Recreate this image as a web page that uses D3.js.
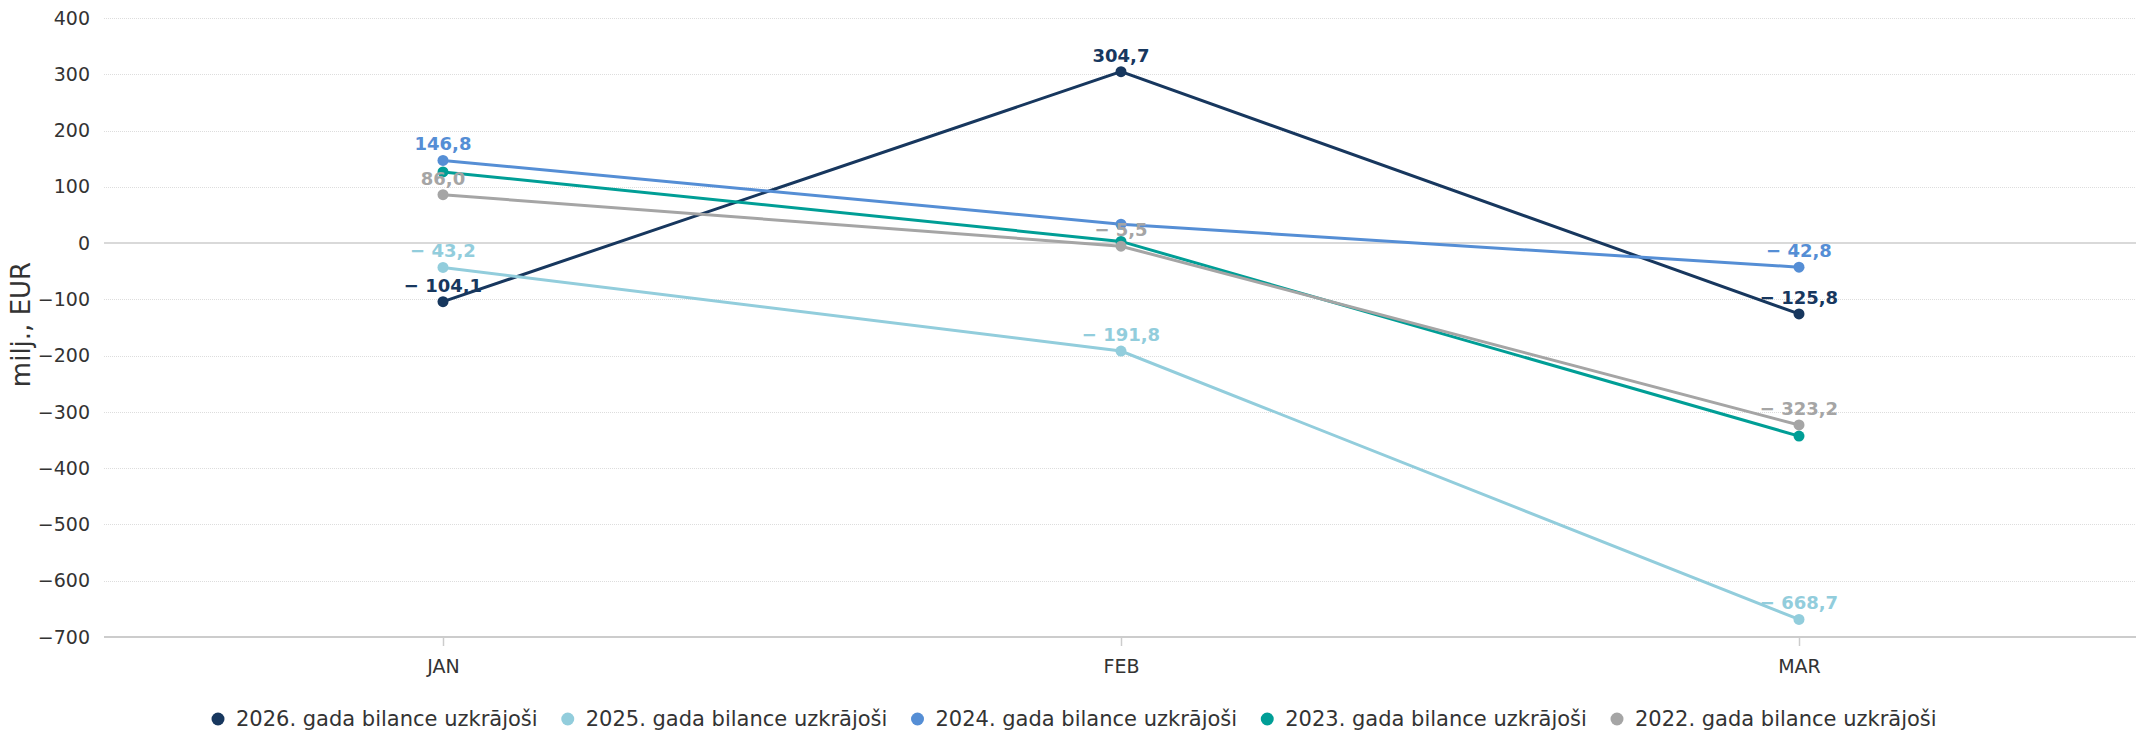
<!DOCTYPE html>
<html>
<head>
<meta charset="utf-8">
<script src="https://cdn.jsdelivr.net/npm/d3@7"></script>
<style>
  body { margin: 0; background: #fff; }
  text { font-family: "DejaVu Sans", sans-serif; }
</style>
</head>
<body>
<div id="chart"></div>
<script>
// data
var months = ["JAN", "FEB", "MAR"];
var seriesNames = ["2026. gada bilance uzkrājoši", "2025. gada bilance uzkrājoši", "2024. gada bilance uzkrājoši", "2023. gada bilance uzkrājoši", "2022. gada bilance uzkrājoši"];
var values2026 = [-104.1, 304.7, -125.8];
var values2025 = [-43.2, -191.8, -668.7];
var values2024 = [146.8, 33.5, -42.8];
var values2023 = [126.5, 3.0, -343.0];
var values2022 = [86.0, -5.5, -323.2];
var seriesColors = ["#17375e", "#92cddc", "#558ed5", "#009e96", "#a5a5a5"];
// labels that the chart hid because they overlapped: [series, month]
var hiddenLabels = [[2, 1], [3, 0], [3, 1], [3, 2]];
var yTicks = [400, 300, 200, 100, 0, -100, -200, -300, -400, -500, -600, -700];

var allValues = [values2026, values2025, values2024, values2023, values2022];

var width = 2136, height = 733;
var plotLeft = 104, plotRight = 2138, plotTop = 18, plotBottom = 637;

var svg = d3.select("#chart").append("svg")
    .attr("width", width)
    .attr("height", height);

var x = d3.scalePoint()
    .domain(months)
    .range([plotLeft, plotRight])
    .padding(0.5);

var y = d3.scaleLinear()
    .domain([-700, 400])
    .range([plotBottom, plotTop]);

var fmt = function(v, sp) {
    var s = d3.format(".1f")(Math.abs(v)).replace(".", ",");
    return v < 0 ? "\u2212" + sp + s : s;
};

// grid
svg.append("g").selectAll("line")
    .data(yTicks.filter(function(t) { return t !== 0 && t !== -700; }))
    .enter().append("line")
    .attr("x1", plotLeft).attr("x2", width)
    .attr("y1", function(d) { return Math.round(y(d)) + 0.5; })
    .attr("y2", function(d) { return Math.round(y(d)) + 0.5; })
    .attr("stroke", "#dddddd")
    .attr("stroke-width", 1)
    .attr("stroke-dasharray", "1,1");

svg.append("line")
    .attr("x1", plotLeft).attr("x2", width)
    .attr("y1", y(0)).attr("y2", y(0))
    .attr("stroke", "#cccccc").attr("stroke-width", 1.5);

// y axis
var yAxis = d3.axisLeft(y)
    .tickValues(yTicks)
    .tickSize(0)
    .tickPadding(14)
    .tickFormat(function(d) { return d < 0 ? "\u2212" + (-d) : d; });
var gy = svg.append("g")
    .attr("transform", "translate(" + plotLeft + ",0)")
    .call(yAxis);
gy.select(".domain").remove();
gy.selectAll("text")
    .attr("font-size", 19)
    .attr("fill", "#333333")
    .attr("font-family", "DejaVu Sans");

svg.append("text")
    .attr("transform", "translate(30," + ((plotTop + plotBottom) / 2 - 3) + ") rotate(-90)")
    .attr("text-anchor", "middle")
    .attr("font-size", 26)
    .attr("fill", "#333333")
    .text("milj., EUR");

// x axis
var xAxis = d3.axisBottom(x)
    .tickSize(9)
    .tickPadding(14);
var gx = svg.append("g")
    .attr("transform", "translate(0," + plotBottom + ")")
    .call(xAxis);
gx.select(".domain").remove();
gx.selectAll(".tick line").attr("stroke", "#cccccc").attr("stroke-width", 1.5);
gx.selectAll("text")
    .attr("font-size", 19)
    .attr("fill", "#333333")
    .attr("font-family", "DejaVu Sans");
svg.append("line")
    .attr("x1", plotLeft).attr("x2", width)
    .attr("y1", plotBottom).attr("y2", plotBottom)
    .attr("stroke", "#cccccc").attr("stroke-width", 2);

// lines and markers
var line = d3.line()
    .x(function(d, i) { return x(months[i]); })
    .y(function(d) { return y(d); });

allValues.forEach(function(vals, s) {
    svg.append("path")
        .datum(vals)
        .attr("d", line)
        .attr("fill", "none")
        .attr("stroke", seriesColors[s])
        .attr("stroke-width", 3);
    svg.append("g").selectAll("circle")
        .data(vals)
        .enter().append("circle")
        .attr("cx", function(d, i) { return x(months[i]); })
        .attr("cy", function(d) { return y(d); })
        .attr("r", 5.5)
        .attr("fill", seriesColors[s]);
});

// data labels
allValues.forEach(function(vals, s) {
    svg.append("g").selectAll("text")
        .data(vals.map(function(v, i) { return {v: v, i: i}; })
            .filter(function(d) {
                return !hiddenLabels.some(function(h) { return h[0] === s && h[1] === d.i; });
            }))
        .enter().append("text")
        .attr("x", function(d) { return x(months[d.i]); })
        .attr("y", function(d) { return y(d.v) - 10; })
        .attr("text-anchor", "middle")
        .attr("font-size", 18)
        .attr("font-weight", "bold")
        .attr("fill", seriesColors[s])
        .text(function(d) { return fmt(d.v, " "); });
});

// legend
var legendStart = 218, legendStep = 349.75;
var legend = svg.append("g").selectAll("g")
    .data(seriesNames)
    .enter().append("g")
    .attr("transform", function(d, i) { return "translate(" + (legendStart + i * legendStep) + ",719)"; });
legend.append("circle")
    .attr("r", 6.5)
    .attr("fill", function(d, i) { return seriesColors[i]; });
legend.append("text")
    .attr("x", 18)
    .attr("dy", "0.35em")
    .attr("font-size", 21)
    .attr("fill", "#333333")
    .text(function(d) { return d; });
</script>
</body>
</html>
